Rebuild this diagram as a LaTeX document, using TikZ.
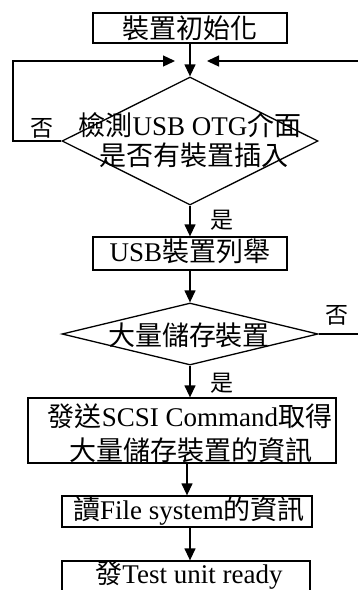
\documentclass[tikz,border=0pt]{standalone}
\usepackage{fontspec}
\setmainfont{Liberation Serif}
\newfontfamily\cjk{Noto Sans CJK TC}
\usetikzlibrary{arrows.meta,shapes.geometric}
\newcommand\zh[1]{{\cjk #1}}
\begin{document}
\begin{tikzpicture}[x=1pt,y=-1pt,
  line width=1.3pt,
  boxnode/.style={draw, rectangle, inner sep=0pt},
  decnode/.style={draw, diamond, inner sep=0pt},
  txt/.style={anchor=base, inner sep=0pt, font=\fontsize{27}{30}\selectfont},
  lbl/.style={anchor=center, inner sep=0pt, font=\fontsize{23}{26}\selectfont\cjk},
  arr/.style={-{Triangle[length=12pt,width=11pt]}}]
\useasboundingbox (0,0) rectangle (358,590);
\clip (0,0) rectangle (358,590);

% boxes and decisions
\node[boxnode, minimum width=194pt, minimum height=30pt] (b1) at (190,28) {};
\node[decnode, minimum width=256pt, minimum height=128pt] (d1) at (190,141) {};
\node[boxnode, minimum width=194pt, minimum height=33pt] (b2) at (190,253.5) {};
\node[decnode, minimum width=256pt, minimum height=62pt] (d2) at (190,334) {};
\node[boxnode, minimum width=308pt, minimum height=65pt] (b3) at (182,430.5) {};
\node[boxnode, minimum width=250pt, minimum height=31pt] (b4) at (187,511.5) {};
\node[boxnode, minimum width=248pt, minimum height=50pt] (b5) at (186,586) {};

% texts
\node[txt] (t1) at (190,38) {\zh{裝置初始化}};
\node[txt] (t2a) at (190,135) {\zh{檢測}USB OTG\zh{介面}};
\node[txt] (t2b) at (194,165) {\zh{是否有裝置插入}};
\node[txt] (t3) at (190,261) {USB\zh{裝置列舉}};
\node[txt] (t4) at (189,345) {\zh{大量儲存裝置}};
\node[txt] (t5a) at (190,426) {\zh{發送}SCSI Command\zh{取得}};
\node[txt] (t5b) at (191,460) {\zh{大量儲存裝置的資訊}};
\node[txt] (t6) at (189,519) {\zh{讀}File system\zh{的資訊}};
\node[txt] (t7) at (189,583) {\zh{發}Test unit ready};

% labels
\node[lbl] (n1) at (42,128) {否};
\node[lbl] (n2) at (337,315) {否};
\node[lbl] (y1) at (222,220) {是};
\node[lbl] (y2) at (222,383) {是};

% free ends
\coordinate (lt) at (175,61);
\coordinate (rt) at (207,61);
\coordinate (lc) at (13,61);
\coordinate (rs) at (358,61);
\coordinate (re) at (358,334);

% connectors
\draw[arr] (b1.south) -- (d1.north);
\draw[arr] (d1.west) -| (lc) -- (lt);
\draw[arr] (rs) -- (rt);
\draw[arr] (d1.south) -- (b2.north);
\draw[arr] (b2.south) -- (d2.north);
\draw (d2.east) -- (re);
\draw[arr] (d2.south) -- (b3.north -| d2.south);
\draw[arr] (b3.south -| b4.north) -- (b4.north);
\draw[arr] (b4.south -| d2.south) -- (b5.north -| d2.south);
\end{tikzpicture}
\end{document}
